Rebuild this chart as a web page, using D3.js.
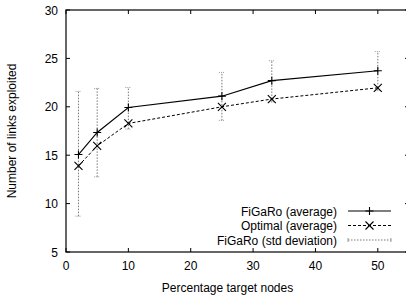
<!DOCTYPE html>
<html>
<head>
<meta charset="utf-8">
<script src="https://cdn.jsdelivr.net/npm/d3@7"></script>
<style>
  body { margin: 0; background: #fff; }
  text { font-family: "Liberation Sans", Arial, sans-serif; }
</style>
</head>
<body>
<svg id="chart" width="406" height="298"></svg>
<script>
// data
const targetPct = [2, 5, 10, 25, 33, 50];
const figaroAvg = [15.07, 17.35, 19.93, 21.1, 22.7, 23.72];
const optimalAvg = [13.9, 15.96, 18.28, 20.0, 20.8, 21.96];
const stdLow = [8.7, 12.76, 17.7, 18.6, 20.5, 21.7];
const stdHigh = [21.6, 21.9, 22.0, 23.55, 24.76, 25.7];
const xTicks = [0, 10, 20, 30, 40, 50];
const yTicks = [5, 10, 15, 20, 25, 30];
const legendLabels = ["FiGaRo (average)", "Optimal (average)", "FiGaRo (std deviation)"];

const svg = d3.select("#chart");
const margin = { top: 10, left: 66 };
const innerWidth = 343;
const innerHeight = 242;
const fs = 12;

const x = d3.scaleLinear().domain([0, 55]).range([0, innerWidth]);
const y = d3.scaleLinear().domain([5, 30]).range([innerHeight, 0]);

const g = svg.append("g").attr("transform", `translate(${margin.left},${margin.top})`);

// ticks (gnuplot style, inward, mirrored)
const tickLen = 4;
xTicks.forEach(t => {
  g.append("line").attr("x1", x(t)).attr("x2", x(t)).attr("y1", innerHeight).attr("y2", innerHeight - tickLen).attr("stroke", "#000");
  g.append("line").attr("x1", x(t)).attr("x2", x(t)).attr("y1", 0).attr("y2", tickLen).attr("stroke", "#000");
  g.append("text").attr("x", x(t)).attr("y", innerHeight + 18).attr("text-anchor", "middle")
    .attr("font-size", fs).text(t);
});
yTicks.forEach(t => {
  g.append("line").attr("x1", 0).attr("x2", tickLen).attr("y1", y(t)).attr("y2", y(t)).attr("stroke", "#000");
  g.append("line").attr("x1", innerWidth).attr("x2", innerWidth - tickLen).attr("y1", y(t)).attr("y2", y(t)).attr("stroke", "#000");
  g.append("text").attr("x", -8).attr("y", y(t) + 4.5).attr("text-anchor", "end")
    .attr("font-size", fs).text(t);
});

g.append("rect").attr("x", 0).attr("y", 0).attr("width", innerWidth).attr("height", innerHeight)
  .attr("fill", "none").attr("stroke", "#000").attr("stroke-width", 1.2);

// std deviation bars
const capW = 3;
targetPct.forEach((p, i) => {
  const px = x(p);
  g.append("line").attr("x1", px).attr("x2", px).attr("y1", y(stdLow[i])).attr("y2", y(stdHigh[i]))
    .attr("stroke", "#777").attr("stroke-dasharray", "1.5,1.5");
  [stdLow[i], stdHigh[i]].forEach(v => {
    g.append("line").attr("x1", px - capW).attr("x2", px + capW).attr("y1", y(v)).attr("y2", y(v))
      .attr("stroke", "#999").attr("stroke-dasharray", "1,1");
  });
});

const line = d3.line().x(d => x(d[0])).y(d => y(d[1]));

g.append("path").datum(targetPct.map((p, i) => [p, optimalAvg[i]]))
  .attr("d", line).attr("fill", "none").attr("stroke", "#000").attr("stroke-dasharray", "3,2");
g.append("path").datum(targetPct.map((p, i) => [p, figaroAvg[i]]))
  .attr("d", line).attr("fill", "none").attr("stroke", "#000").attr("stroke-width", 1.1);

const plus = (sel, cx, cy) => {
  sel.append("path").attr("d", `M${cx - 4},${cy}H${cx + 4}M${cx},${cy - 4}V${cy + 4}`).attr("stroke", "#000").attr("stroke-width", 1.1);
};
const cross = (sel, cx, cy) => {
  sel.append("path").attr("d", `M${cx - 4},${cy - 4}L${cx + 4},${cy + 4}M${cx - 4},${cy + 4}L${cx + 4},${cy - 4}`).attr("stroke", "#000").attr("stroke-width", 1.1);
};
targetPct.forEach((p, i) => {
  plus(g, x(p), y(figaroAvg[i]));
  cross(g, x(p), y(optimalAvg[i]));
});

// legend
const lg = svg.append("g");
const rowY = [211, 225.5, 240];
legendLabels.forEach((lab, i) => {
  lg.append("text").attr("x", 337).attr("y", rowY[i] + 4.5).attr("text-anchor", "end")
    .attr("font-size", fs).text(lab);
});
lg.append("line").attr("x1", 348).attr("x2", 391).attr("y1", rowY[0]).attr("y2", rowY[0]).attr("stroke", "#000").attr("stroke-width", 1.1);
plus(lg, 369.5, rowY[0]);
lg.append("line").attr("x1", 348).attr("x2", 391).attr("y1", rowY[1]).attr("y2", rowY[1]).attr("stroke", "#000").attr("stroke-dasharray", "3,2");
cross(lg, 369.5, rowY[1]);
lg.append("line").attr("x1", 348).attr("x2", 391).attr("y1", rowY[2]).attr("y2", rowY[2]).attr("stroke", "#777").attr("stroke-dasharray", "1.5,1.5");
[348, 391].forEach(px => {
  lg.append("line").attr("x1", px).attr("x2", px).attr("y1", rowY[2] - 2).attr("y2", rowY[2] + 2).attr("stroke", "#999");
});

// axis titles
svg.append("text").attr("x", margin.left + x(27.5) - 10).attr("y", 292).attr("text-anchor", "middle")
  .attr("font-size", fs).text("Percentage target nodes");
svg.append("text").attr("transform", `translate(16,${margin.top + innerHeight / 2}) rotate(-90)`)
  .attr("text-anchor", "middle").attr("font-size", fs).text("Number of links exploited");
</script>
</body>
</html>
